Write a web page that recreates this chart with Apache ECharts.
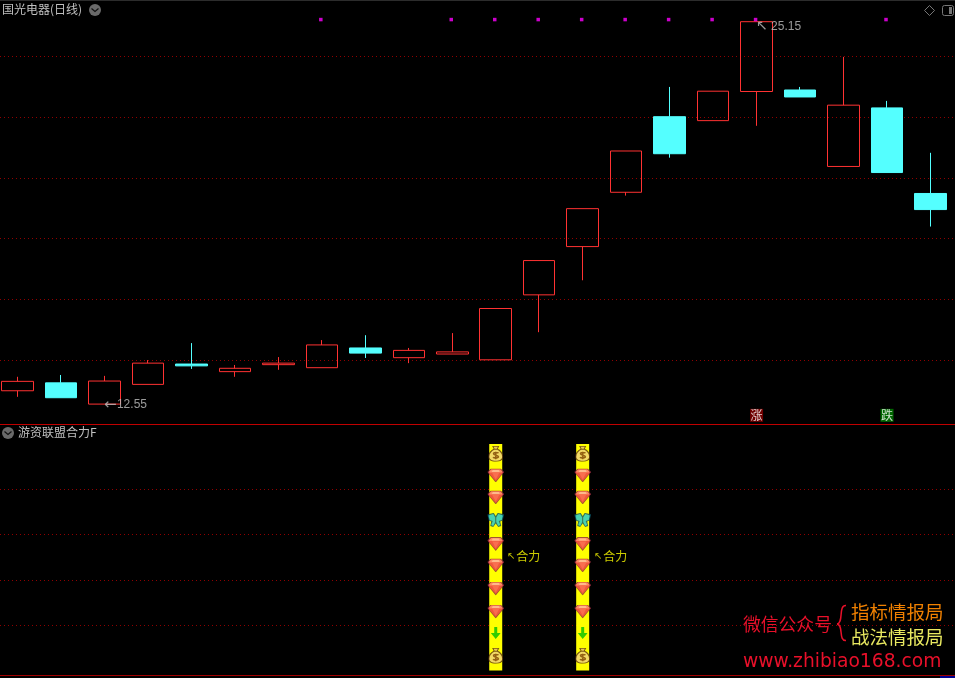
<!DOCTYPE html>
<html>
<head>
<meta charset="utf-8">
<style>html,body{margin:0;padding:0;background:#000;overflow:hidden}#c{width:955px;height:678px}</style>
<script src="https://cdn.jsdelivr.net/npm/echarts@6/dist/echarts.min.js"></script>
</head>
<body>
<div id="c"></div>
<script>
const days   = [0,1,2,3,4,5,6,7,8,9,10,11,12,13,14,15,16,17,18,19,20,21];
const opens  = [12.99,13.25,12.55,13.20,13.87,13.62,13.85,13.75,14.40,14.08,14.20,14.01,16.15,17.74,19.53,22.02,21.89,22.85,22.90,20.38,22.31,19.49];
const closes = [13.30,12.76,13.31,13.90,13.81,13.73,13.90,14.50,14.23,14.32,14.27,15.70,17.28,18.99,20.89,20.80,22.86,25.15,22.67,22.40,20.18,18.96];
const lows   = [12.79,12.76,12.55,13.20,13.71,13.45,13.68,13.75,14.07,13.90,14.20,14.01,14.92,16.63,19.42,20.67,21.89,21.72,22.67,20.38,20.18,18.40];
const highs  = [13.45,13.51,13.48,14.00,14.56,13.84,14.10,14.66,14.82,14.40,14.89,15.70,17.28,18.99,20.89,23.00,22.86,25.15,23.00,23.99,22.54,20.83];
const dotDays = [7,10,11,12,13,14,15,16,17,20];
const dotLevel = 25.22;
const lowDay = 2, lowLabel = '12.55';
const highDay = 17, highLabel = '25.15';
const riseDay = 17, fallDay = 20, flagLevel = 12.18;
const signalDays = [11,13];
const signalTop = 100;
const bagLevels = [95.7,6.5];
const gemLevels = [86.1,76.4,55.9,46.4,36.2,26.0];
const butterflyLevels = [66.5];
const arrowLevels = [16.6];
const heliLevel = 50.2;

const svg = s => 'image://data:image/svg+xml;charset=utf-8,' + encodeURIComponent(s);
const gemIcon = svg('<svg xmlns="http://www.w3.org/2000/svg" width="34" height="28" viewBox="0 0 34 28"><polygon points="0,7 7,0 27,0 34,7 17,28" fill="#8a2a3a"/><polygon points="2,8 8,2 26,2 32,8 17,25" fill="#ee2f4c"/><polygon points="2,8 8,2 26,2 32,8" fill="#ff7080"/><polygon points="10,9 24,9 17,22" fill="#f84a64"/><polygon points="11,3 23,3 25,7 9,7" fill="#ffa8b0"/></svg>');
const bagIcon = svg('<svg xmlns="http://www.w3.org/2000/svg" width="28" height="32" viewBox="0 0 28 32"><path d="M7 0h14l-3 6c6 3 10 9 10 16 0 7-6 10-14 10S0 29 0 22C0 15 4 9 10 6z" fill="#5a3010"/><path d="M10 2h8l-2 4h-4z" fill="#e8c070"/><path d="M11 8h6c5 3 9 8 9 14 0 5-5 8-12 8S2 27 2 22c0-6 4-11 9-14z" fill="#f0d080"/><path d="M19 15c-1-2-9-2-9 1 0 4 9 2 9 6 0 3-8 3-10 1M14 12v15" fill="none" stroke="#7a3a18" stroke-width="3"/></svg>');
const butterflyIcon = svg('<svg xmlns="http://www.w3.org/2000/svg" width="34" height="28" viewBox="0 0 34 28"><polygon points="17,6 13,0 0,3 3,15 8,17 6,26 12,28 17,21 22,28 28,26 26,17 31,15 34,3 21,0" fill="#0a5060"/><polygon points="16,9 12,2 2,5 5,14 11,16 8,24 12,26 16,18" fill="#1cc8dc"/><polygon points="18,9 22,2 32,5 29,14 23,16 26,24 22,26 18,18" fill="#1cc8dc"/></svg>');
const arrowIcon = svg('<svg xmlns="http://www.w3.org/2000/svg" width="20" height="24" viewBox="0 0 20 24"><polygon points="7,0 13,0 13,12 20,12 10,24 0,12 7,12" fill="#00c000"/></svg>');

const iconData = levels => signalDays.flatMap(d => levels.map(v => [d, v]));
const iconSeries = (levels, icon, size) => ({
  type: 'scatter', xAxisIndex: 1, yAxisIndex: 1, data: iconData(levels),
  symbol: icon, symbolSize: size, z: 5, silent: true, animation: false
});
const hiddenPoint = {symbol: 'circle', symbolSize: 1, itemStyle: {color: 'rgba(0,0,0,0)'}};

const grayFont = 'Liberation Sans';
const uiFont = '"Noto Sans CJK SC"';
const gridLine = {show: true, showMinLine: false, showMaxLine: false, lineStyle: {color: '#900000', width: 1, type: [1, 3]}};
const hiddenAxis = {axisLine: {show: false}, axisTick: {show: false}, axisLabel: {show: false}};

const option = {
  animation: false,
  backgroundColor: '#000',
  grid: [
    {left: 0, width: 955, top: 0, height: 420.8},
    {left: 0, width: 955, top: 444, height: 226.5}
  ],
  xAxis: [0, 1].map(i => ({
    type: 'value', gridIndex: i, min: -0.4025, max: 21.564, splitLine: {show: false}, ...hiddenAxis
  })),
  yAxis: [
    {type: 'value', gridIndex: 0, min: 12, max: 25.865, interval: 2, splitLine: gridLine, ...hiddenAxis},
    {type: 'value', gridIndex: 1, min: 0, max: signalTop, interval: 20, splitLine: gridLine, ...hiddenAxis}
  ],
  series: [
    {
      type: 'candlestick', xAxisIndex: 0, yAxisIndex: 0, barWidth: 32, silent: true,
      data: days.map(i => [i, opens[i], closes[i], lows[i], highs[i]]),
      itemStyle: {color: 'rgba(0,0,0,0)', color0: '#54ffff', borderColor: '#ff3232', borderColor0: '#54ffff', borderWidth: 1}
    },
    {
      type: 'scatter', xAxisIndex: 0, yAxisIndex: 0, symbol: 'rect', symbolSize: 3.5, symbolOffset: [-1, 0], z: 6, silent: true,
      data: dotDays.map(d => [d, dotLevel]), itemStyle: {color: '#ff00ff'}
    },
    {
      type: 'scatter', xAxisIndex: 0, yAxisIndex: 0, silent: true, z: 7, ...hiddenPoint,
      data: [
        {value: [lowDay, lows[lowDay]], label: {show: true, position: 'right', distance: -1, offset: [0, 1],
          formatter: '{a|←}{b|' + lowLabel + '}',
          rich: {a: {fontFamily: 'DejaVu Sans', fontSize: 15, width: 13, color: '#c0c0c0'}, b: {fontFamily: grayFont, fontSize: 12, color: '#c0c0c0'}}}},
        {value: [highDay, highs[highDay]], label: {show: true, position: 'right', distance: -1, offset: [0, 5],
          formatter: '{a|↖}{b|' + highLabel + '}',
          rich: {a: {fontFamily: 'DejaVu Sans', fontSize: 14, width: 15, color: '#c0c0c0'}, b: {fontFamily: grayFont, fontSize: 12, color: '#c0c0c0'}}}}
      ]
    },
    {
      type: 'scatter', xAxisIndex: 0, yAxisIndex: 0, symbol: 'rect', symbolSize: 13, z: 6, silent: true,
      data: [
        {value: [riseDay, flagLevel], itemStyle: {color: '#8b0000'}, label: {show: true, position: 'inside', formatter: '涨', color: '#fff', fontSize: 12, fontFamily: uiFont}},
        {value: [fallDay, flagLevel], itemStyle: {color: '#008000'}, label: {show: true, position: 'inside', formatter: '跌', color: '#fff', fontSize: 12, fontFamily: uiFont}}
      ]
    },
    {
      type: 'bar', xAxisIndex: 1, yAxisIndex: 1, barWidth: 13, silent: true, z: 3,
      data: signalDays.map(d => [d, signalTop]),
      itemStyle: {color: '#ffff00'}
    },
    iconSeries(bagLevels, bagIcon, [15, 16]),
    iconSeries(gemLevels, gemIcon, [17, 14]),
    iconSeries(butterflyLevels, butterflyIcon, [17, 14]),
    iconSeries(arrowLevels, arrowIcon, [10, 12]),
    {
      type: 'scatter', xAxisIndex: 1, yAxisIndex: 1, silent: true, z: 7, ...hiddenPoint,
      data: signalDays.map(d => [d, heliLevel]),
      label: {show: true, position: 'right', distance: 0, offset: [11, 0], formatter: '{a|↖}{b|合力}',
        rich: {a: {fontFamily: 'DejaVu Sans', fontSize: 10, width: 9, color: '#ffff00'}, b: {fontFamily: uiFont, fontSize: 12, color: '#ffff00'}}}
    }
  ],
  graphic: [
    {type: 'rect', shape: {x: 0, y: 0, width: 955, height: 1}, style: {fill: '#2c2c2c'}, silent: true, z: 20},
    {type: 'rect', shape: {x: 0, y: 424, width: 955, height: 1}, style: {fill: '#c00000'}, silent: true, z: 20},
    {type: 'rect', shape: {x: 0, y: 675, width: 955, height: 1}, style: {fill: '#a00000'}, silent: true, z: 20},
    {type: 'rect', shape: {x: 940, y: 676, width: 15, height: 2}, style: {fill: '#000090'}, silent: true, z: 20},
    {type: 'text', x: 2, y: 3, silent: true, z: 20, style: {text: '国光电器(日线)', fill: '#c0c0c0', font: '12px "Noto Sans CJK SC"'}},
    {type: 'circle', shape: {cx: 95, cy: 10, r: 6}, style: {fill: '#6a6a6a'}, silent: true, z: 20},
    {type: 'polyline', shape: {points: [[91.5, 8.5], [95, 11.5], [98.5, 8.5]]}, style: {stroke: '#111', fill: null, lineWidth: 1.2}, silent: true, z: 21},
    {type: 'circle', shape: {cx: 8, cy: 433, r: 6}, style: {fill: '#6a6a6a'}, silent: true, z: 20},
    {type: 'polyline', shape: {points: [[4.5, 431.5], [8, 434.5], [11.5, 431.5]]}, style: {stroke: '#111', fill: null, lineWidth: 1.2}, silent: true, z: 21},
    {type: 'text', x: 18, y: 426, silent: true, z: 20, style: {text: '游资联盟合力F', fill: '#c0c0c0', font: '12px "Noto Sans CJK SC"'}},
    {type: 'polygon', shape: {points: [[929.5, 5.5], [934.5, 10.5], [929.5, 15.5], [924.5, 10.5]]}, style: {fill: null, stroke: '#777', lineWidth: 1}, silent: true, z: 20},
    {type: 'rect', shape: {x: 942.5, y: 5.5, width: 11, height: 10, r: 2}, style: {fill: null, stroke: '#777', lineWidth: 1}, silent: true, z: 20},
    {type: 'rect', shape: {x: 949, y: 7, width: 3, height: 7}, style: {fill: '#777'}, silent: true, z: 20},
    {type: 'text', x: 743, y: 615, silent: true, z: 20, style: {text: '微信公众号', fill: '#e8102a', font: '17.8px "Noto Sans CJK SC"'}},
    {type: 'text', x: 851, y: 603, silent: true, z: 20, style: {text: '指标情报局', fill: '#f08000', font: '18.5px "Noto Sans CJK SC"'}},
    {type: 'text', x: 851, y: 628, silent: true, z: 20, style: {text: '战法情报局', fill: '#e8e860', font: '18.5px "Noto Sans CJK SC"'}},
    {type: 'text', x: 743, y: 653, silent: true, z: 20, style: {text: 'www.zhibiao168.com', fill: '#e8102a', font: '18.7px "DejaVu Sans"'}},
    {type: 'bezierCurve', shape: {x1: 846, y1: 605.5, cpx1: 838, cpy1: 605, cpx2: 844, cpy2: 623, x2: 837, y2: 624}, style: {stroke: '#e8102a', fill: null, lineWidth: 1.5}, silent: true, z: 20},
    {type: 'bezierCurve', shape: {x1: 846, y1: 640.5, cpx1: 838, cpy1: 641, cpx2: 844, cpy2: 625, x2: 837, y2: 624}, style: {stroke: '#e8102a', fill: null, lineWidth: 1.5}, silent: true, z: 20}
  ]
};
const chart = echarts.init(document.getElementById('c'), null, {renderer: 'canvas'});
chart.setOption(option);
</script>
</body>
</html>
